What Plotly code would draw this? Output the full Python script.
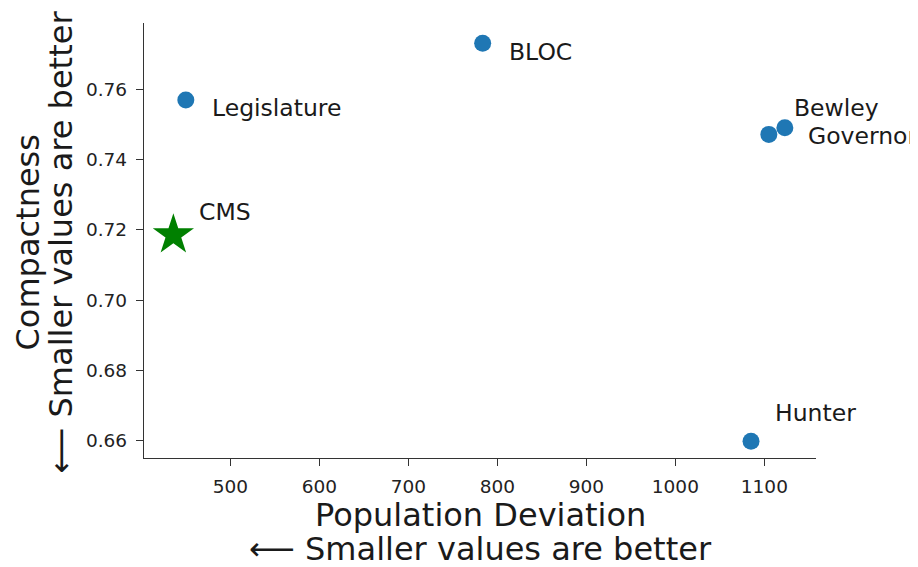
import plotly.graph_objects as go

# ---- data ----
plan_names = ["Legislature", "BLOC", "Bewley", "Governor", "Hunter"]
pop_deviation = [450, 783.5, 1123, 1105, 1085]
compactness = [0.7571, 0.7733, 0.7492, 0.7473, 0.6597]

cms_name = ["CMS"]
cms_pop_deviation = [436]
cms_compactness = [0.7186]

x_ticks = [500, 600, 700, 800, 900, 1000, 1100]
y_ticks = [0.66, 0.68, 0.70, 0.72, 0.74, 0.76]

x_title_lines = ["Population Deviation", "⟵ Smaller values are better"]
y_title_lines = ["Compactness", "⟵ Smaller values are better"]

# ---- style ----
FONT = "DejaVu Sans"
BLUE = "#1f77b4"
GREEN = "#008000"
TXT = "#1a1a1a"
label_offsets = {  # pixel offsets (dx right, dy down) of labels from their points
    "Legislature": (24, 8),
    "BLOC": (24, 9),
    "Bewley": (7, -20),
    "Governor": (37, 2),
    "Hunter": (22, -28),
    "CMS": (24, -23),
}

fig = go.Figure()
fig.add_trace(go.Scatter(
    x=pop_deviation, y=compactness, mode="markers",
    marker=dict(color=BLUE, size=17, line=dict(width=0)),
    showlegend=False, hoverinfo="skip"))
fig.add_trace(go.Scatter(
    x=cms_pop_deviation, y=cms_compactness, mode="markers",
    marker=dict(color=GREEN, size=31, symbol="star", line=dict(width=0)),
    showlegend=False, hoverinfo="skip"))

for names, xs, ys in [(plan_names, pop_deviation, compactness),
                      (cms_name, cms_pop_deviation, cms_compactness)]:
    for n, xv, yv in zip(names, xs, ys):
        dx, dy = label_offsets[n]
        fig.add_annotation(x=xv, y=yv, text=n, showarrow=False,
                           xanchor="left", yanchor="middle",
                           xshift=dx, yshift=-dy,
                           font=dict(family=FONT, size=23.5, color=TXT))

# axis titles as separate lines (tighter line spacing, like matplotlib)
for line, shift in zip(x_title_lines, [-57, -91]):
    fig.add_annotation(xref="paper", yref="paper", x=0.5, y=0, text=line,
                       showarrow=False, xanchor="center", yanchor="middle",
                       yshift=shift, font=dict(family=FONT, size=32, color=TXT))
for line, shift in zip(y_title_lines, [-117, -84]):
    fig.add_annotation(xref="paper", yref="paper", x=0, y=0.5, text=line,
                       showarrow=False, xanchor="center", yanchor="middle",
                       textangle=-90, xshift=shift, yshift=-2,
                       font=dict(family=FONT, size=32, color=TXT))

axis_common = dict(
    showgrid=False, zeroline=False, showline=True, linecolor="#333333",
    linewidth=1.3, ticks="outside", ticklen=7, tickwidth=1.2,
    tickcolor="#333333", tickfont=dict(family=FONT, size=18.5, color="#222222"),
    automargin=False, ticklabelstandoff=5,
)

fig.update_xaxes(range=[403, 1158], tickvals=x_ticks,
                 ticktext=[str(v) for v in x_ticks], **axis_common)
fig.update_yaxes(range=[0.6549, 0.7791], tickvals=y_ticks,
                 ticktext=[f"{v:.2f}" for v in y_ticks], **axis_common)

# the page body adds an 8px offset, so margins are reduced on the left/top
fig.update_layout(
    width=918, height=567,
    margin=dict(l=136, r=110, t=15, b=117),
    plot_bgcolor="white", paper_bgcolor="white",
    font=dict(family=FONT),
)

fig.write_html("out.html")
